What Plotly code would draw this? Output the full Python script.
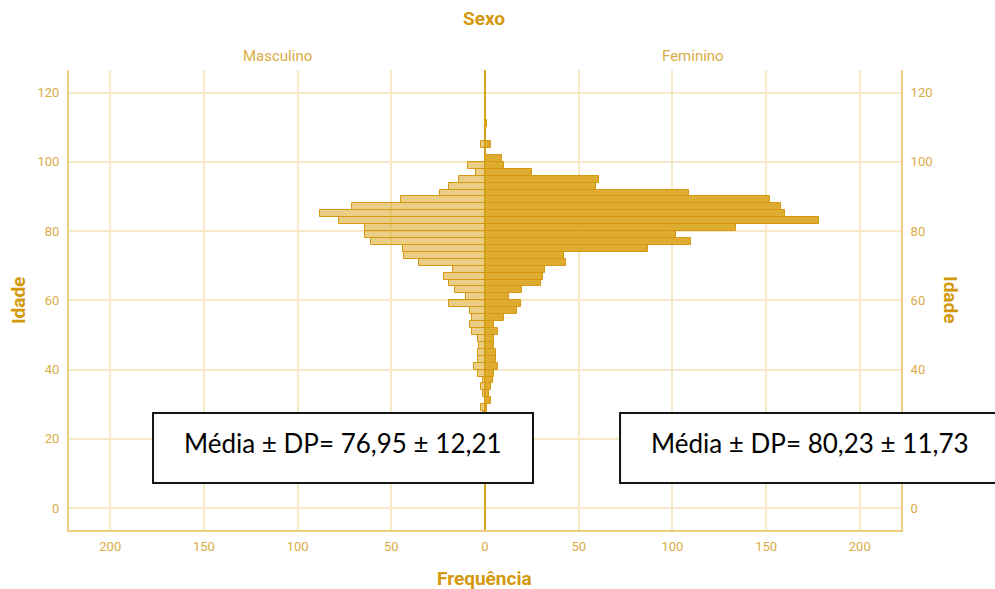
import plotly.graph_objects as go

# Age bins (2-year bins, centre values)
idade = [111, 109, 107, 105, 103, 101, 99, 97, 95, 93, 91, 89, 87, 85, 83, 81, 79, 77,
         75, 73, 71, 69, 67, 65, 63, 61, 59, 57, 55, 53, 51, 49, 47, 45, 43, 41, 39, 37,
         35, 33, 31, 29, 27]
masculino = [0, 0, 0, 2, 0, 0, 9, 5, 14, 19, 24, 45, 71, 88, 78, 64, 64, 61,
             44, 43, 35, 17, 22, 19, 16, 10, 19, 8, 7, 8, 7, 4, 3, 4, 4, 6, 4, 1,
             2, 1, 0, 2, 1]
feminino = [1, 0, 0, 3, 0, 9, 10, 25, 61, 59, 109, 152, 158, 160, 178, 134, 102, 110,
            87, 42, 43, 32, 31, 30, 20, 13, 19, 17, 10, 5, 7, 5, 5, 6, 6, 7, 5, 4,
            3, 2, 3, 1, 1]

freq_ticks = [-200, -150, -100, -50, 0, 50, 100, 150, 200]
freq_labels = ["200", "150", "100", "50", "0", "50", "100", "150", "200"]
idade_ticks = [0, 20, 40, 60, 80, 100, 120]
idade_ticks_dir = [0, 40, 60, 80, 100, 120]   # the "20" label on the right is hidden by the box

texto_m = "Média ± DP= 76,95 ± 12,21"
texto_f = "Média ± DP= 80,23 ± 11,73"

GOLD = "rgb(218,165,32)"
GOLD_LINE = "rgb(212,153,16)"
TICK_COL = "rgb(218,172,70)"
TITLE_COL = "rgb(212,152,12)"
GRID = "rgb(247,232,200)"
FRAME = "rgb(236,205,130)"

fig = go.Figure()
fig.add_trace(go.Bar(
    y=idade, x=[-v for v in masculino], orientation="h", width=2,
    marker=dict(color="rgba(218,165,32,0.55)", line=dict(color=GOLD_LINE, width=1)),
    showlegend=False, hoverinfo="skip"))
fig.add_trace(go.Bar(
    y=idade, x=feminino, orientation="h", width=2,
    marker=dict(color="rgba(218,165,32,0.92)", line=dict(color=GOLD_LINE, width=1)),
    showlegend=False, hoverinfo="skip"))
# helper trace so the right-hand age axis is drawn
fig.add_trace(go.Scatter(x=[0], y=[0], yaxis="y2", mode="markers",
                         marker=dict(opacity=0), showlegend=False, hoverinfo="skip"))

font_fam = "Roboto, Arial, sans-serif"
yax = dict(range=[-6.3, 126.5], tickvals=idade_ticks, showgrid=True, gridcolor=GRID,
           gridwidth=1.5, zeroline=False, showline=True, linecolor=FRAME, linewidth=2,
           ticks="outside", ticklen=5, tickcolor="rgba(0,0,0,0)",
           tickfont=dict(family=font_fam, size=13, color=TICK_COL))

fig.update_layout(
    width=995, height=589, autosize=False,
    margin=dict(l=69, r=94, t=70, b=59),
    paper_bgcolor="white", plot_bgcolor="white",
    barmode="overlay", bargap=0,
    xaxis=dict(range=[-222, 222], tickvals=freq_ticks, ticktext=freq_labels,
               showgrid=True, gridcolor=GRID, gridwidth=1.5,
               zeroline=True, zerolinecolor=GOLD, zerolinewidth=2,
               showline=True, linecolor=FRAME, linewidth=2, mirror=False,
               ticks="outside", ticklen=3, tickcolor="rgba(0,0,0,0)",
               tickfont=dict(family=font_fam, size=13, color=TICK_COL)),
    yaxis=yax,
    yaxis2=dict(yax, overlaying="y", side="right", showgrid=False,
                tickvals=idade_ticks_dir),
    font=dict(family=font_fam),
)

ann = [
    dict(text="<b>Sexo</b>", x=0.4988, y=1.113, font=dict(size=19, color=TITLE_COL)),
    dict(text="Masculino", x=0.25, y=1.0304, font=dict(size=15, color=TICK_COL)),
    dict(text="Feminino", x=0.75, y=1.0304, font=dict(size=15, color=TICK_COL)),
    dict(text="<b>Frequência</b>", x=0.4988, y=-0.1065, font=dict(size=19, color=TITLE_COL)),
    dict(text="<b>Idade</b>", x=-0.0613, y=0.5, textangle=-90, font=dict(size=19, color=TITLE_COL)),
    dict(text="<b>Idade</b>", x=1.060, y=0.5, textangle=90, font=dict(size=19, color=TITLE_COL)),
]
for a in ann:
    fig.add_annotation(xref="paper", yref="paper", showarrow=False,
                       xanchor="center", yanchor="middle", **a)

# statistic boxes
boxes = [((0.101, 0.5577), texto_m, 0.329), ((0.6623, 1.125), texto_f, 0.891)]
for (x0, x1), txt, xc in boxes:
    fig.add_shape(type="rect", xref="paper", yref="paper", x0=x0, x1=x1,
                  y0=0.1022, y1=0.2543, fillcolor="white",
                  line=dict(color="rgb(20,20,20)", width=2), layer="above")
    fig.add_annotation(xref="paper", yref="paper", x=xc, y=0.189, text=txt,
                       showarrow=False, xanchor="center", yanchor="middle",
                       font=dict(family="Lato, sans-serif", size=26, color="black"))

fig.write_html("out.html", config={"displayModeBar": False},
               post_script="document.body.style.margin='0';")
